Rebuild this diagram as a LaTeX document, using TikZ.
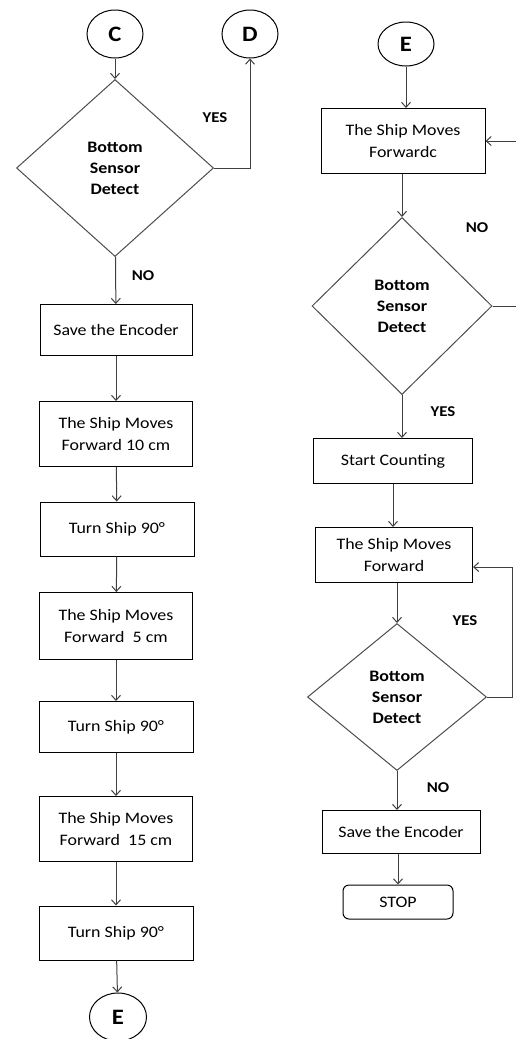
\documentclass[tikz,border=0pt]{standalone}
\usepackage{fontspec}
\setmainfont{Carlito}[FakeStretch=1.12]
\usetikzlibrary{arrows.meta, shapes.geometric}

\begin{document}
\begin{tikzpicture}[x=1pt, y=-1pt, line width=1pt,
    font=\fontsize{16}{22}\selectfont]
\useasboundingbox (0,0) rectangle (516,1039);
\clip (0,0) rectangle (516,1039);

\begin{scope}[every node/.style={draw=black,align=center,inner sep=0pt}]
    % left column
    \node (c) at (115, 34) [ellipse,minimum width=56pt,minimum height=48pt,font=\fontsize{22}{22}\selectfont\bfseries] {C};
    \node (d) at (250, 34) [ellipse,minimum width=56pt,minimum height=48pt,font=\fontsize{22}{22}\selectfont\bfseries] {D};
    \node (dec1) at (115, 168) [diamond,minimum width=197pt,minimum height=177pt,draw=black!70,font=\fontsize{16}{21}\selectfont\bfseries] {Bottom\\Sensor\\Detect};

    \node (save1) at (116, 330) [rectangle,minimum width=152pt,minimum height=51pt] {Save the Encoder};
    \node (fwd10) at (116, 434) [rectangle,minimum width=153pt,minimum height=65pt] {The Ship Moves\\Forward 10 cm};
    \node (turn1) at (117, 529) [rectangle,minimum width=154pt,minimum height=54pt] {Turn Ship 90°};
    \node (fwd5) at (116, 626) [rectangle,minimum width=153pt,minimum height=67pt] {The Ship Moves\\Forward\ \ 5 cm};
    \node (turn2) at (116, 727) [rectangle,minimum width=154pt,minimum height=51pt] {Turn Ship 90°};
    \node (fwd15) at (116, 829) [rectangle,minimum width=153pt,minimum height=65pt] {The Ship Moves\\Forward\ \ 15 cm};
    \node (turn3) at (116, 933) [rectangle,minimum width=154pt,minimum height=54pt] {Turn Ship 90°};
    \node (e1) at (118, 1017) [ellipse,minimum width=57pt,minimum height=48pt,font=\fontsize{22}{22}\selectfont\bfseries] {E};

    % right column
    \node (e2) at (406, 44) [ellipse,minimum width=56pt,minimum height=44pt,font=\fontsize{22}{22}\selectfont\bfseries] {E};
    \node (fwd1) at (403, 141) [rectangle,minimum width=164pt,minimum height=65pt] {The Ship Moves\\Forwardc};
    \node (dec2) at (402, 306) [diamond,minimum width=180pt,minimum height=177pt,draw=black!70,font=\fontsize{16}{21}\selectfont\bfseries] {Bottom\\Sensor\\Detect};
    \node (cnt) at (393, 461) [rectangle,minimum width=159pt,minimum height=45pt] {Start Counting};
    \node (fwd2) at (394, 555) [rectangle,minimum width=157pt,minimum height=55pt] {The Ship Moves\\Forward};
    \node (dec3) at (397, 697) [diamond,minimum width=179pt,minimum height=147pt,draw=black!70,font=\fontsize{16}{21}\selectfont\bfseries] {Bottom\\Sensor\\Detect};
    \node (save2) at (401, 832) [rectangle,minimum width=158pt,minimum height=43pt] {Save the Encoder};
    \node (stop) at (398, 902) [rectangle,rounded corners=6pt,minimum width=110pt,minimum height=34pt] {STOP};
\end{scope}

\begin{scope}[every node/.style={font=\fontsize{15}{15}\selectfont\bfseries}]
    \node (yes1) at (215, 118) {YES};
    \node (no1) at (143, 276) {NO};
    \node (no2) at (477, 228) {NO};
    \node (yes2) at (443, 412) {YES};
    \node (yes3) at (465, 621) {YES};
    \node (no3) at (438, 788) {NO};
\end{scope}

\coordinate (loop1) at (522, 0);
\coordinate (loop2) at (512, 0);

\begin{scope}[>={Straight Barb[length=5pt,width=9pt]}, draw=black!75]
    \draw[->] (c) -- (dec1);
    \draw[->] (dec1.east) -| (d);
    \draw[->] (dec1) -- (save1);
    \draw[->] (save1) -- (fwd10);
    \draw[->] (fwd10) -- (turn1);
    \draw[->] (turn1) -- (fwd5);
    \draw[->] (fwd5) -- (turn2);
    \draw[->] (turn2) -- (fwd15);
    \draw[->] (fwd15) -- (turn3);
    \draw[->] (turn3) -- (e1);

    \draw[->] (e2) -- (e2 |- fwd1.north);
    \draw[->] (fwd1.south -| dec2) -- (dec2);
    \draw[->] (dec2.east) -- (dec2.east -| loop1) -- (fwd1.east -| loop1) -- (fwd1.east);
    \draw[->] (dec2.south) -- (dec2.south |- cnt.north);
    \draw[->] (cnt.south) -- (cnt.south |- fwd2.north);
    \draw[->] (fwd2.south -| dec3) -- (dec3);
    \draw[->] (dec3.east) -- (dec3.east -| loop2) |- ([yshift=-12pt]fwd2.east);
    \draw[->] (dec3.south) -- (dec3.south |- save2.north);
    \draw[->] (save2.south -| stop) -- (stop);
\end{scope}
\end{tikzpicture}
\end{document}
